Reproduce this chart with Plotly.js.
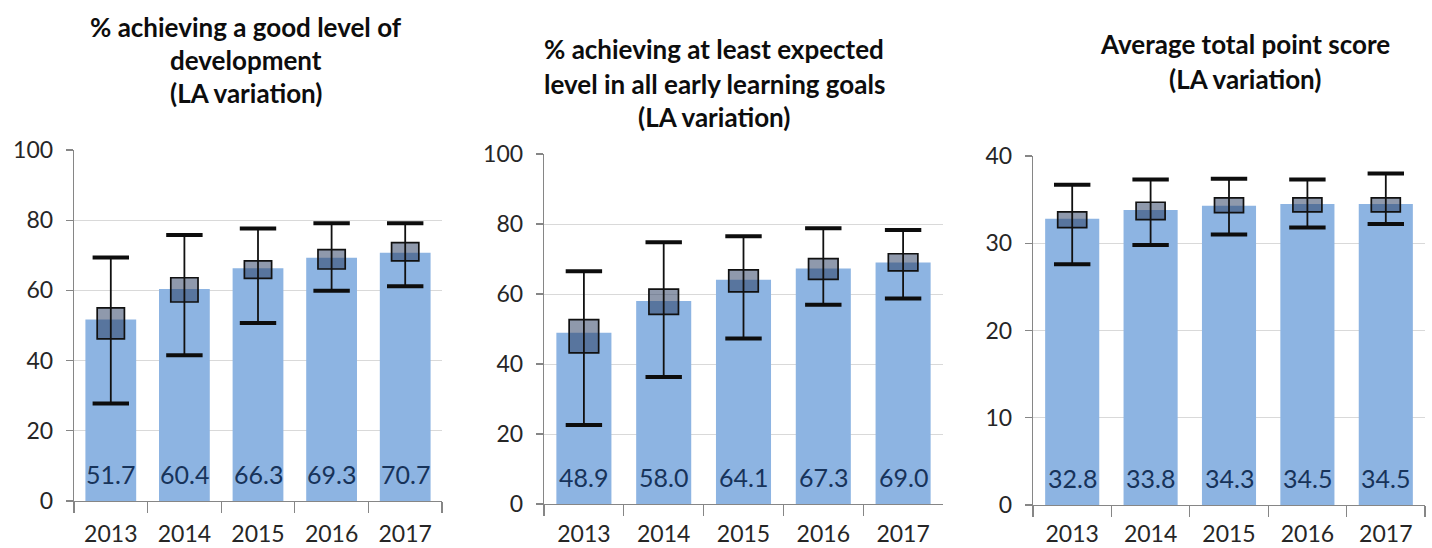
<!DOCTYPE html>
<html>
<head>
<meta charset="utf-8">
<script src="https://cdn.plot.ly/plotly-3.0.1.min.js"></script>
<style>html,body{margin:0;padding:0;background:#fff;}#chart{width:1432px;height:548px;}</style>
</head>
<body>
<div id="chart"></div>
<script>
const categories = ['2013', '2014', '2015', '2016', '2017'];

// Panel 1: % achieving a good level of development
const gldValues = [51.7, 60.4, 66.3, 69.3, 70.7];
const gldMin = [27.8, 41.5, 50.7, 59.9, 61.2];
const gldQ1 = [46.2, 56.7, 63.4, 66.1, 68.4];
const gldQ3 = [55.0, 63.6, 68.4, 71.6, 73.6];
const gldMax = [69.4, 75.8, 77.6, 79.1, 79.1];

// Panel 2: % achieving at least expected level in all ELGs
const elgValues = [48.9, 58.0, 64.1, 67.3, 69.0];
const elgMin = [22.6, 36.3, 47.3, 56.9, 58.7];
const elgQ1 = [43.2, 54.2, 60.6, 64.2, 66.6];
const elgQ3 = [52.7, 61.4, 66.9, 70.1, 71.5];
const elgMax = [66.5, 74.8, 76.5, 78.8, 78.3];

// Panel 3: Average total point score
const tpsValues = [32.8, 33.8, 34.3, 34.5, 34.5];
const tpsMin = [27.6, 29.8, 31.0, 31.8, 32.2];
const tpsQ1 = [31.8, 32.7, 33.5, 33.6, 33.6];
const tpsQ3 = [33.6, 34.7, 35.2, 35.2, 35.2];
const tpsMax = [36.7, 37.3, 37.4, 37.3, 38.0];

const titles = [
  ['% achieving a good level of', 'development', '(LA variation)'],
  ['% achieving at least expected', 'level in all early learning goals', '(LA variation)'],
  ['Average total point score', '(LA variation)']
];

const W = 1432, H = 548;
const panels = [
  {vals: gldValues, mn: gldMin, q1: gldQ1, q3: gldQ3, mx: gldMax, xd: [74, 442], yd: [501, 150], range: [0, 100], dtick: 20, ax: '', tx: 246, ty: [27, 60, 93], so: 12},
  {vals: elgValues, mn: elgMin, q1: elgQ1, q3: elgQ3, mx: elgMax, xd: [544, 943], yd: [504, 154], range: [0, 100], dtick: 20, ax: '2', tx: 714, ty: [49, 84, 117], so: 9},
  {vals: tpsValues, mn: tpsMin, q1: tpsQ1, q3: tpsQ3, mx: tpsMax, xd: [1033, 1425], yd: [505, 156], range: [0, 40], dtick: 10, ax: '3', tx: 1245, ty: [44, 79], so: 8}
];

const FONT = 'Lato, "Open Sans", sans-serif';
const traces = [];
const annotations = [];
const layout = {
  width: W, height: H,
  margin: {l: 0, r: 0, t: 0, b: 0},
  paper_bgcolor: '#ffffff', plot_bgcolor: '#ffffff',
  barmode: 'overlay',
  showlegend: false,
  font: {family: FONT, color: '#404040'},
  annotations: annotations
};

panels.forEach((p, i) => {
  const xa = 'x' + p.ax, ya = 'y' + p.ax;
  traces.push({
    type: 'bar', x: categories, y: p.vals, xaxis: xa, yaxis: ya,
    width: 0.69, marker: {color: '#8db4e2', line: {width: 0}}, hoverinfo: 'y'
  });
  traces.push({
    type: 'bar', x: categories, base: p.q1, y: p.q3.map((v, k) => v - p.q1[k]),
    xaxis: xa, yaxis: ya, width: 0.37,
    marker: {color: 'rgba(40,60,95,0.52)', line: {color: '#111111', width: 1.7}},
    error_y: {type: 'data', symmetric: false,
      array: p.mx.map((v, k) => v - p.q3[k]),
      arrayminus: p.q3.map((v, k) => v - p.mn[k]),
      width: 0, thickness: 1.8, color: '#111111'},
    hoverinfo: 'skip'
  });
  [p.mx, p.mn].forEach(arr => {
    traces.push({
      type: 'scatter', mode: 'markers', x: categories, y: arr, xaxis: xa, yaxis: ya,
      marker: {symbol: 'line-ew', size: 26, line: {width: 4, color: '#0d0d0d'}},
      hoverinfo: 'y', cliponaxis: false
    });
  });
  layout['xaxis' + p.ax] = {
    domain: [p.xd[0] / W, p.xd[1] / W], anchor: ya, type: 'category',
    categoryorder: 'array', categoryarray: categories, range: [-0.5, categories.length - 0.5],
    showline: true, linecolor: '#868686', linewidth: 1.3,
    ticks: 'outside', tickson: 'boundaries', ticklen: 11, tickcolor: '#868686', tickwidth: 1.3,
    tickfont: {family: FONT, size: 23, color: '#262626'}, ticklabelstandoff: p.so, tickangle: 0,
    showgrid: false, zeroline: false, fixedrange: true
  };
  layout['yaxis' + p.ax] = {
    domain: [(H - p.yd[0]) / H, (H - p.yd[1]) / H], anchor: xa,
    range: p.range, dtick: p.dtick, tick0: 0,
    showline: true, linecolor: '#868686', linewidth: 1.3,
    ticks: 'outside', ticklen: 7, tickcolor: '#868686', tickwidth: 1.3,
    tickfont: {family: FONT, size: 23, color: '#262626'}, ticklabelstandoff: 8,
    showgrid: true, gridcolor: '#d9d9d9', gridwidth: 1, zeroline: false, fixedrange: true
  };
  p.vals.forEach((v, k) => {
    annotations.push({
      x: k, xref: xa, y: 0.078, yref: ya + ' domain',
      text: v.toFixed(1), showarrow: false, yanchor: 'middle', xanchor: 'center',
      font: {family: FONT, size: 25, color: '#17335a'}
    });
  });
  titles[i].forEach((line, j) => {
    annotations.push({
      x: p.tx / W, xref: 'paper', y: 1 - p.ty[j] / H, yref: 'paper',
      text: '<b>' + line + '</b>', showarrow: false, xanchor: 'center', yanchor: 'middle',
      font: {family: FONT, size: 26, color: '#0d0d0d'}
    });
  });
});

Plotly.newPlot('chart', traces, layout, {displayModeBar: false, staticPlot: true});
</script>
</body>
</html>
